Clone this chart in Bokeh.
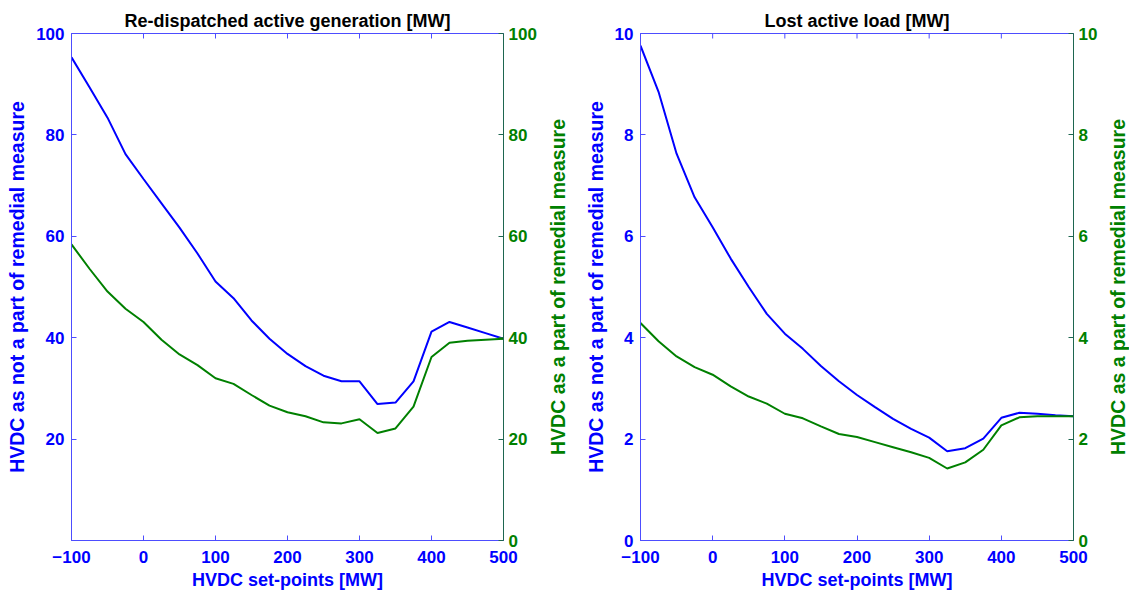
import math
from bokeh.plotting import figure
from bokeh.models import LinearAxis, Range1d, FixedTicker
from bokeh.core.properties import value
from bokeh.layouts import row
from bokeh.embed import file_html
from bokeh.resources import INLINE

setpoints = [-100, -75, -50, -25, 0, 25, 50, 75, 100, 125, 150, 175, 200,
             225, 250, 275, 300, 325, 350, 375, 400, 425, 450, 475, 500]

gen_not_part = [95.3, 89.4, 83.4, 76.2, 71.3, 66.5, 61.7, 56.6, 51.1, 47.8, 43.4, 39.8, 36.8,
                34.4, 32.5, 31.4, 31.4, 26.9, 27.2, 31.4, 41.2, 43.1, 42.0, 40.9, 39.8]
gen_part = [58.4, 53.6, 49.1, 45.7, 43.1, 39.6, 36.7, 34.6, 32.0, 30.9, 28.7, 26.6, 25.3,
            24.5, 23.3, 23.1, 23.9, 21.2, 22.1, 26.4, 36.2, 39.0, 39.4, 39.6, 39.8]

load_not_part = [9.76, 8.85, 7.63, 6.77, 6.18, 5.56, 5.00, 4.47, 4.08, 3.78, 3.44, 3.14, 2.87,
                 2.63, 2.40, 2.20, 2.03, 1.76, 1.82, 2.01, 2.42, 2.52, 2.50, 2.47, 2.45]
load_part = [4.29, 3.93, 3.63, 3.42, 3.27, 3.04, 2.84, 2.70, 2.50, 2.41, 2.25, 2.10, 2.04,
             1.94, 1.84, 1.74, 1.63, 1.42, 1.54, 1.79, 2.27, 2.43, 2.45, 2.45, 2.45]

x_ticks = [-100, 0, 100, 200, 300, 400, 500]

titles = ["Re-dispatched active generation [MW]", "Lost active load [MW]"]
left_title = "HVDC as not a part of remedial measure"
right_title = "HVDC as a part of remedial measure"
x_title = "HVDC set-points [MW]"

BLUE = "#0000FF"
AXBLUE = "#4D4DFF"
GREEN = "#008000"
AXGREEN = "#1E6650"
FONT = "Liberation Sans"
TICK_FS = "17px"
XLABEL_FS = "18px"
YLABEL_FS = "19.5px"
HEIGHT = 595
TOP = 33
BOTTOM = 55


def style_axis(ax, color, line_color, ticks, label_fs):
    ax.ticker = FixedTicker(ticks=ticks)
    ax.axis_line_color = line_color
    ax.major_tick_line_color = line_color
    ax.minor_tick_line_color = None
    ax.major_tick_in = 5
    ax.major_tick_out = 0
    ax.major_label_text_color = color
    ax.major_label_text_font = FONT
    ax.major_label_text_font_style = "bold"
    ax.major_label_text_font_size = TICK_FS
    ax.axis_label_text_color = color
    ax.axis_label_text_font = FONT
    ax.axis_label_text_font_style = "bold"
    ax.axis_label_text_font_size = label_fs


def make_panel(title, blue_vals, green_vals, ymax, left_ticks, right_ticks,
               border_left, border_right, frame_w):
    p = figure(width=border_left + frame_w + border_right, height=HEIGHT,
               output_backend="svg", toolbar_location=None,
               x_range=Range1d(-100, 500), y_range=Range1d(0, ymax),
               x_axis_location=None, y_axis_location=None,
               min_border_left=border_left, min_border_right=border_right,
               min_border_top=TOP, min_border_bottom=BOTTOM)
    p.extra_y_ranges = {"right": Range1d(0, ymax)}
    p.grid.visible = False
    p.outline_line_color = AXBLUE
    p.outline_line_width = 1
    p.background_fill_color = "white"
    p.border_fill_color = "white"

    p.title.text = title
    p.title.align = "center"
    p.title.text_font = FONT
    p.title.text_font_style = "bold"
    p.title.text_font_size = "18px"
    p.title.text_color = "black"
    p.title.offset = 0
    p.title.standoff = 5

    left = LinearAxis(axis_label=left_title)
    style_axis(left, BLUE, AXBLUE, left_ticks, YLABEL_FS)
    left.major_label_standoff = 7
    left.axis_label_standoff = 5
    p.add_layout(left, "left")

    right = LinearAxis(y_range_name="right")
    style_axis(right, GREEN, AXGREEN, right_ticks, YLABEL_FS)
    right.major_label_standoff = 5
    p.add_layout(right, "right")

    bottom = LinearAxis(axis_label=x_title)
    style_axis(bottom, BLUE, AXBLUE, x_ticks, XLABEL_FS)
    bottom.major_label_standoff = 10
    bottom.axis_label_standoff = 4
    p.add_layout(bottom, "below")

    # inward tick marks along the top edge of the frame
    p.ray(x=x_ticks, y=[ymax] * len(x_ticks), length=5, length_units="screen",
          angle=-math.pi / 2, line_color=AXBLUE, line_width=1)

    p.line(setpoints, blue_vals, line_color=BLUE, line_width=2)
    p.line(setpoints, green_vals, line_color=GREEN, line_width=2, y_range_name="right")
    return p


def side_title(text, width):
    """Narrow strip holding the right-hand axis title, reading bottom to top."""
    s = figure(width=width, height=HEIGHT, output_backend="svg", toolbar_location=None,
               x_range=Range1d(0, 1), y_range=Range1d(0, 1),
               x_axis_location=None, y_axis_location=None,
               min_border_left=0, min_border_right=0,
               min_border_top=TOP, min_border_bottom=BOTTOM)
    s.grid.visible = False
    s.outline_line_color = None
    s.background_fill_color = "white"
    s.border_fill_color = "white"
    s.text(x=[0.5], y=[0.5], text=[text], angle=math.pi / 2,
           text_align="center", text_baseline="middle",
           text_font=value(FONT), text_font_style="bold",
           text_font_size=value(YLABEL_FS), text_color=GREEN)
    return s


p1 = make_panel(titles[0], gen_not_part, gen_part, 100,
                [20, 40, 60, 80, 100], [0, 20, 40, 60, 80, 100], 71, 42, 432)
s1 = side_title(right_title, 25)
p2 = make_panel(titles[1], load_not_part, load_part, 10,
                [0, 2, 4, 6, 8, 10], [0, 2, 4, 6, 8, 10], 70, 32, 433)
s2 = side_title(right_title, 24)

p = row(p1, s1, p2, s2)
open("out.html", "w").write(file_html(p, INLINE))
